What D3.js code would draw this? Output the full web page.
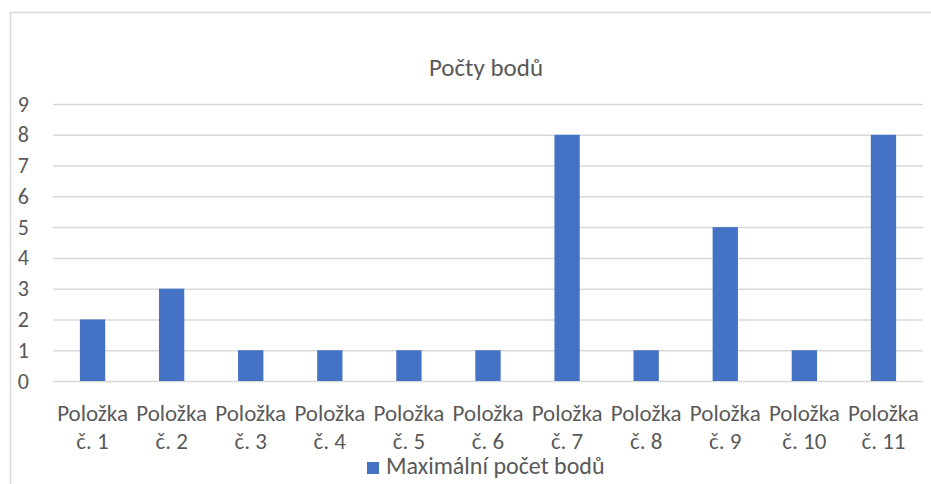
<!DOCTYPE html>
<html>
<head>
<meta charset="utf-8">
<script src="https://cdn.jsdelivr.net/npm/d3@7"></script>
<style>
  body { margin: 0; background: #fff; }
  text { font-family: Calibri, Carlito, Lato, sans-serif; fill: #595959; }
</style>
</head>
<body>
<div id="chart"></div>
<script>
var categories = ["Položka č. 1", "Položka č. 2", "Položka č. 3", "Položka č. 4", "Položka č. 5", "Položka č. 6",
                  "Položka č. 7", "Položka č. 8", "Položka č. 9", "Položka č. 10", "Položka č. 11"];
var values = [2, 3, 1, 1, 1, 1, 8, 1, 5, 1, 8];
var yTicks = [0, 1, 2, 3, 4, 5, 6, 7, 8, 9];
var seriesName = "Maximální počet bodů";
var title = "Počty bodů";

var width = 931, height = 484;
var margin = {top: 104, right: 8, bottom: 103, left: 53};

var svg = d3.select("#chart").append("svg").attr("width", width).attr("height", height);

// chart area border (runs off the right and bottom edges)
svg.append("rect")
    .attr("x", 10.5).attr("y", 12.5)
    .attr("width", 1000).attr("height", 1000)
    .attr("fill", "none")
    .attr("stroke", "#d9d9d9")
    .attr("stroke-width", 1.5);

var xScale = d3.scaleBand()
    .domain(categories)
    .range([margin.left, width - margin.right])
    .paddingInner(0.68)
    .paddingOuter(0.34);

var yScale = d3.scaleLinear()
    .domain([0, 9])
    .range([height - margin.bottom, margin.top]);

var axisy = d3.axisLeft(yScale)
    .tickValues(yTicks)
    .tickSize(-(width - margin.left - margin.right))
    .tickPadding(24);

var gy = svg.append("g")
    .attr("transform", "translate(" + margin.left + "," + 0 + ")")
    .call(axisy);
gy.select(".domain").remove();
gy.selectAll(".tick line").attr("stroke", "#d9d9d9").attr("stroke-width", 1.5);
gy.selectAll(".tick text").attr("font-size", "22px").attr("fill", "#595959");

svg.append("g")
    .selectAll("rect")
    .data(values)
    .enter()
    .append("rect")
    .attr("x", (d, i) => xScale(categories[i]))
    .attr("y", d => yScale(d))
    .attr("width", xScale.bandwidth())
    .attr("height", d => yScale(0) - yScale(d))
    .attr("fill", "#4472c4");

// category labels, two lines each
var labels = svg.append("g")
    .selectAll("text")
    .data(categories)
    .enter()
    .append("text")
    .attr("text-anchor", "middle")
    .attr("font-size", "23px")
    .attr("y", 421);
labels.each(function(d) {
    var parts = d.split(" č. ");
    var cx = xScale(d) + xScale.bandwidth() / 2;
    var t = d3.select(this);
    t.append("tspan").attr("x", cx).text(parts[0]);
    t.append("tspan").attr("x", cx).attr("dy", 28).text("č. " + parts[1]);
});

svg.append("text")
    .attr("x", 486)
    .attr("y", 76)
    .attr("text-anchor", "middle")
    .attr("font-size", "25px")
    .text(title);

// legend
var legend = svg.append("g");
legend.append("rect")
    .attr("x", 367).attr("y", 462)
    .attr("width", 12).attr("height", 12)
    .attr("fill", "#4472c4");
legend.append("text")
    .attr("x", 386).attr("y", 474)
    .attr("font-size", "24px")
    .text(seriesName);
</script>
</body>
</html>
